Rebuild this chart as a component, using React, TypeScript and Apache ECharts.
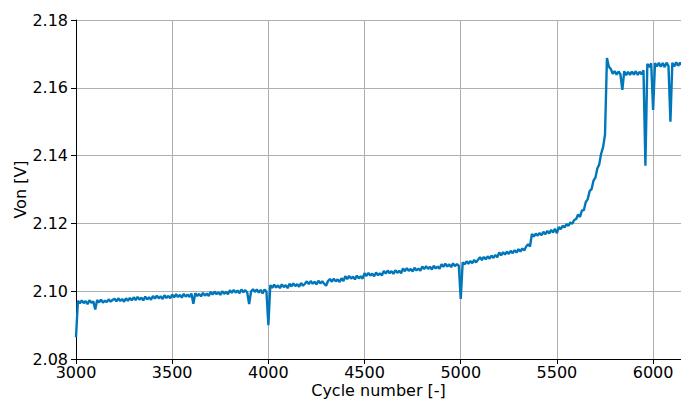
import React, { useEffect, useRef } from "react";
import * as echarts from "echarts";

// Sampling of the measured curve: one reading every 10 cycles, starting at cycle 3000
const firstCycle = 3000;
const cycleStep = 10;

// Von [V] (rows of 10 readings = 100 cycles)
const von = [
  2.0864, 2.0972, 2.0964, 2.0973, 2.0965, 2.0971, 2.0962, 2.0973, 2.0966, 2.0970,
  2.0946, 2.0974, 2.0967, 2.0975, 2.0966, 2.0972, 2.0968, 2.0976, 2.0969, 2.0974,
  2.0978, 2.0970, 2.0979, 2.0971, 2.0977, 2.0969, 2.0979, 2.0972, 2.0980, 2.0973,
  2.0982, 2.0974, 2.0983, 2.0975, 2.0981, 2.0973, 2.0984, 2.0976, 2.0982, 2.0975,
  2.0986, 2.0978, 2.0987, 2.0979, 2.0985, 2.0977, 2.0988, 2.0980, 2.0986, 2.0979,
  2.0990, 2.0982, 2.0991, 2.0983, 2.0989, 2.0981, 2.0992, 2.0984, 2.0990, 2.0983,
  2.0993, 2.0963, 2.0994, 2.0986, 2.0992, 2.0985, 2.0995, 2.0987, 2.0993, 2.0986,
  2.0998, 2.0990, 2.0999, 2.0991, 2.0997, 2.0989, 2.1000, 2.0992, 2.0998, 2.0991,
  2.1003, 2.0995, 2.1004, 2.0996, 2.1002, 2.0994, 2.1005, 2.0997, 2.1003, 2.0996,
  2.0962, 2.0999, 2.1006, 2.0998, 2.1005, 2.0996, 2.1004, 2.0993, 2.1005, 2.0999,
  2.0900, 2.1018, 2.1010, 2.1019, 2.1011, 2.1017, 2.1009, 2.1020, 2.1012, 2.1018,
  2.1009, 2.1022, 2.1014, 2.1023, 2.1015, 2.1021, 2.1013, 2.1024, 2.1016, 2.1022,
  2.1029, 2.1021, 2.1030, 2.1022, 2.1028, 2.1020, 2.1031, 2.1023, 2.1029, 2.1022,
  2.1016, 2.1030, 2.1036, 2.1028, 2.1037, 2.1029, 2.1035, 2.1027, 2.1038, 2.1030,
  2.1044, 2.1036, 2.1045, 2.1037, 2.1043, 2.1035, 2.1046, 2.1038, 2.1044, 2.1037,
  2.1053, 2.1045, 2.1054, 2.1046, 2.1052, 2.1044, 2.1055, 2.1047, 2.1053, 2.1046,
  2.1060, 2.1052, 2.1061, 2.1053, 2.1059, 2.1051, 2.1062, 2.1054, 2.1060, 2.1053,
  2.1067, 2.1059, 2.1068, 2.1060, 2.1066, 2.1058, 2.1069, 2.1061, 2.1067, 2.1060,
  2.1073, 2.1065, 2.1074, 2.1066, 2.1072, 2.1064, 2.1075, 2.1067, 2.1073, 2.1066,
  2.1080, 2.1072, 2.1081, 2.1073, 2.1079, 2.1071, 2.1082, 2.1074, 2.1080, 2.1075,
  2.0977, 2.1085, 2.1079, 2.1088, 2.1081, 2.1089, 2.1083, 2.1092, 2.1085, 2.1093,
  2.1100, 2.1092, 2.1101, 2.1094, 2.1103, 2.1096, 2.1105, 2.1098, 2.1107, 2.1100,
  2.1114, 2.1106, 2.1115, 2.1108, 2.1117, 2.1110, 2.1119, 2.1112, 2.1121, 2.1114,
  2.1124, 2.1117, 2.1126, 2.1120, 2.1132, 2.1138, 2.1132, 2.1169, 2.1161, 2.1170,
  2.1164, 2.1172, 2.1165, 2.1175, 2.1168, 2.1178, 2.1170, 2.1181, 2.1173, 2.1184,
  2.1171, 2.1189, 2.1183, 2.1193, 2.1188, 2.1198, 2.1193, 2.1203, 2.1199, 2.1210,
  2.1213, 2.1226, 2.1219, 2.1238, 2.1239, 2.1263, 2.1271, 2.1295, 2.1301, 2.1326,
  2.1335, 2.1362, 2.1374, 2.1406, 2.1425, 2.1462, 2.1688, 2.1662, 2.1656, 2.1641,
  2.1649, 2.1639, 2.1648, 2.1640, 2.1594, 2.1649, 2.1637, 2.1647, 2.1638, 2.1648,
  2.1639, 2.1649, 2.1638, 2.1647, 2.1640, 2.1652, 2.1370, 2.1671, 2.1661, 2.1672,
  2.1535, 2.1673, 2.1663, 2.1674, 2.1662, 2.1673, 2.1661, 2.1674, 2.1664, 2.1500,
  2.1674, 2.1663, 2.1675, 2.1665, 2.1674, 2.1667,
];

const xMin = 3000;
const xMax = 6145;
const xStep = 500;
const yMin = 2.08;
const yMax = 2.18;
const yStep = 0.02;

export default function App() {
  const ref = useRef<HTMLDivElement>(null);
  useEffect(() => {
    if (!ref.current) return;
    const chart = echarts.init(ref.current, null, { renderer: "svg" });
    const data = von.map((v, i) => [firstCycle + i * cycleStep, v]);
    const font = "DejaVu Sans";
    chart.setOption({
      animation: false,
      backgroundColor: "#ffffff",
      textStyle: { fontFamily: font },
      grid: {
        left: 76,
        right: 0,
        top: 20,
        bottom: 41,
        containLabel: false,
        outerBoundsMode: "none",
      },
      xAxis: {
        type: "value",
        min: xMin,
        max: xMax,
        interval: xStep,
        name: "Cycle number [-]",
        nameLocation: "middle",
        nameGap: 23,
        nameMoveOverlap: false,
        nameTextStyle: { fontSize: 16, lineHeight: 16, color: "#000", fontFamily: font },
        axisLine: { show: true, onZero: false, lineStyle: { color: "#000", width: 1 } },
        axisTick: { show: true, inside: false, length: 5, lineStyle: { color: "#000", width: 1 } },
        axisLabel: {
          fontSize: 16,
          lineHeight: 16,
          color: "#000",
          margin: 5,
          fontFamily: font,
          showMaxLabel: false,
          hideOverlap: false,
          formatter: (v: number) => String(v),
        },
        splitLine: { show: true, showMaxLine: false, lineStyle: { color: "#b0b0b0", width: 1 } },
      },
      yAxis: {
        type: "value",
        min: yMin,
        max: yMax,
        interval: yStep,
        name: "Von [V]",
        nameLocation: "middle",
        nameRotate: 90,
        nameGap: 48,
        nameMoveOverlap: false,
        nameTextStyle: { fontSize: 16, color: "#000", fontFamily: font },
        axisLine: { show: true, onZero: false, lineStyle: { color: "#000", width: 1 } },
        axisTick: { show: true, inside: false, length: 5, lineStyle: { color: "#000", width: 1 } },
        axisLabel: {
          fontSize: 16,
          color: "#000",
          margin: 8,
          fontFamily: font,
          hideOverlap: false,
          formatter: (v: number) => v.toFixed(2),
        },
        splitLine: { show: true, lineStyle: { color: "#b0b0b0", width: 1 } },
      },
      series: [
        {
          type: "line",
          data,
          symbol: "none",
          showSymbol: false,
          clip: true,
          lineStyle: { color: "#0077bb", width: 2.4 },
          itemStyle: { color: "#0077bb" },
        },
      ],
    });
    return () => chart.dispose();
  }, []);
  return (
    <div
      ref={ref}
      style={{ position: "fixed", left: 0, top: 0, width: 681, height: 400, background: "#fff" }}
    />
  );
}
